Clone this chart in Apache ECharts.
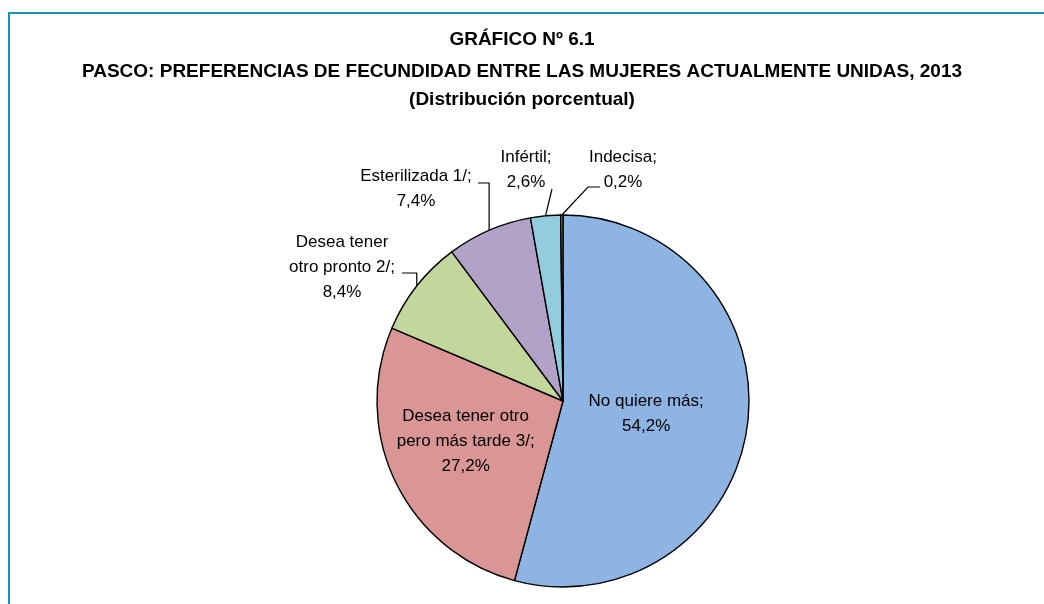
<!DOCTYPE html>
<html>
<head>
<meta charset="utf-8">
<script src="https://cdn.jsdelivr.net/npm/echarts@6/dist/echarts.min.js"></script>
<style>
  html, body { margin: 0; padding: 0; background: #fff; }
  #chart { width: 1044px; height: 604px; }
</style>
</head>
<body>
<div id="chart"></div>
<script>
// datos del gráfico (distribución porcentual)
const categorias = [
  "No quiere más",
  "Desea tener otro pero más tarde 3/",
  "Desea tener otro pronto 2/",
  "Esterilizada 1/",
  "Infértil",
  "Indecisa"
];
const valores = [54.2, 27.2, 8.4, 7.4, 2.6, 0.2];
// cómo se corta el texto de cada etiqueta
const textoEtiquetas = [
  "No quiere más;",
  "Desea tener otro\npero más tarde 3/;",
  "Desea tener\notro pronto 2/;",
  "Esterilizada 1/;",
  "Infértil;",
  "Indecisa;"
];
const colores = ["#8EB4E3", "#D99694", "#C3D69B", "#B3A2C7", "#93CDDD", "#A5835C"];

const fuente = "'Liberation Sans Narrow', 'Arial Narrow', 'Liberation Sans', sans-serif";

// ubicación de las etiquetas
const posEtiquetas = {
  0: { dx: -12 },
  1: { dx: -11, dy: -2 },
  2: { x: 342, y: 267, lineaY: 273, lineaX: 402 },
  3: { x: 416, y: 189, lineaY: 183, lineaX: 478 },
  4: { x: 526, y: 170, fin: [552, 189] },
  5: { x: 623, y: 170, lineaY: 187, lineaX: 600, codo: 588 }
};

const chart = echarts.init(document.getElementById("chart"));

const formatoPct = (v) => v.toFixed(1).replace(".", ",") + "%";

const datos = categorias.map((nombre, i) => ({
  name: nombre,
  value: valores[i],
  itemStyle: { color: colores[i] },
  label: { position: i < 2 ? "inside" : "outside" },
  labelLine: { show: i >= 2 }
}));

const estiloTitulo = { fontFamily: fuente, fontSize: 19, fontWeight: "bold", color: "#000", lineHeight: 22 };

const option = {
  animation: false,
  title: [
    { text: "GRÁFICO Nº 6.1", left: "center", top: 29, padding: 0, textStyle: estiloTitulo },
    {
      text: "PASCO: PREFERENCIAS DE FECUNDIDAD ENTRE LAS MUJERES ACTUALMENTE UNIDAS, 2013",
      left: "center", top: 61, padding: 0, textStyle: estiloTitulo
    },
    { text: "(Distribución porcentual)", left: "center", top: 89, padding: 0, textStyle: estiloTitulo }
  ],
  graphic: [
    {
      type: "polyline",
      shape: { points: [[9, 604], [9, 13], [1044, 13]] },
      style: { stroke: "#1A8FC4", lineWidth: 2, fill: null }
    }
  ],
  series: [
    {
      type: "pie",
      center: [563, 401],
      radius: 186,
      startAngle: 90,
      clockwise: true,
      avoidLabelOverlap: false,
      itemStyle: { borderColor: "#000", borderWidth: 1.4 },
      label: {
        fontFamily: fuente,
        fontSize: 17,
        lineHeight: 25,
        color: "#000",
        align: "center",
        formatter: (p) => textoEtiquetas[p.dataIndex] + "\n" + formatoPct(p.value)
      },
      labelLine: {
        lineStyle: { color: "#000", width: 1.2 }
      },
      labelLayout: function (params) {
        const p = posEtiquetas[params.dataIndex];
        if (!p) return {};
        if (p.dx !== undefined) return { dx: p.dx, dy: p.dy || 0 };
        if (!params.labelLinePoints) return {};
        const borde = params.labelLinePoints[0];
        let puntos;
        if (p.fin) {
          puntos = [borde, p.fin];
        } else if (p.codo) {
          puntos = [borde, [p.codo, p.lineaY], [p.lineaX, p.lineaY]];
        } else {
          puntos = [borde, [borde[0], p.lineaY], [p.lineaX, p.lineaY]];
        }
        return {
          x: p.x,
          y: p.y,
          align: "center",
          verticalAlign: "middle",
          labelLinePoints: puntos
        };
      },
      data: datos
    }
  ]
};

chart.setOption(option);
window.addEventListener("resize", () => chart.resize());
</script>
</body>
</html>
